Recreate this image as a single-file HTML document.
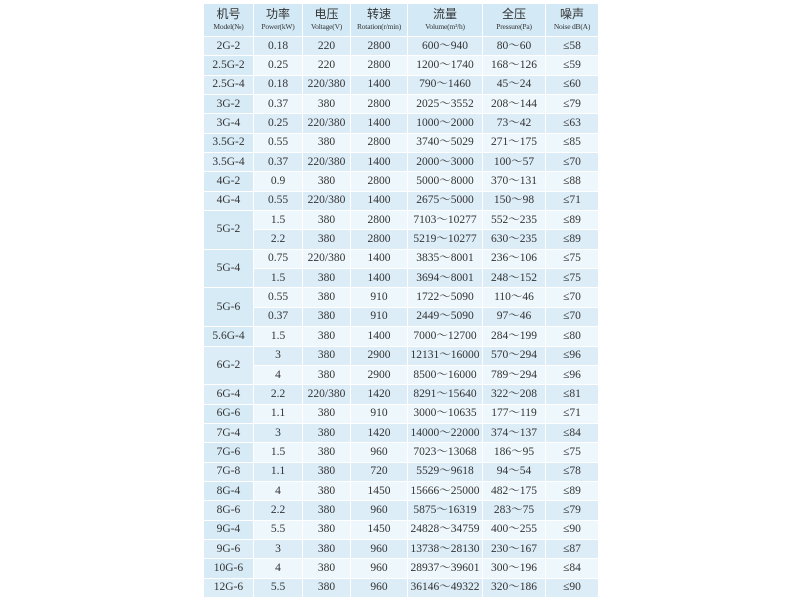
<!DOCTYPE html>
<html><head><meta charset="utf-8"><style>
body{margin:0;width:800px;height:600px;background:#fff;position:relative;overflow:hidden;font-family:"Liberation Serif","Noto Serif CJK SC",serif;color:#333}
table{position:absolute;left:203px;top:3px;width:395px;border-collapse:collapse;table-layout:fixed}
td{border:1.5px solid #fff;text-align:center;padding:0;font-size:11.5px;height:18.35px;line-height:11px;background:#eef7fc;white-space:nowrap}
tr.b td{background:#dcedf8}
td.m{background:#d7ebf7}
th{border:1.5px solid #fff;background:#d3e9f6;height:32px;font-weight:normal;padding:0;font-size:11px;line-height:11px}
th span{display:block;font-size:7.5px;white-space:nowrap;letter-spacing:-0.2px}
th b{display:block;font-weight:normal;font-family:"Liberation Sans","Noto Sans CJK SC",sans-serif;font-size:12px;margin-bottom:1px}
</style></head><body>
<table>
<colgroup><col style="width:50px"><col style="width:49px"><col style="width:48px"><col style="width:57px"><col style="width:75px"><col style="width:63px"><col style="width:53px"></colgroup>
<tr><th><b>机号</b><span>Model(№)</span></th><th><b>功率</b><span>Power(kW)</span></th><th><b>电压</b><span>Voltage(V)</span></th><th><b>转速</b><span>Rotation(r/min)</span></th><th><b>流量</b><span>Volume(m³/h)</span></th><th><b>全压</b><span>Pressure(Pa)</span></th><th><b>噪声</b><span>Noise dB(A)</span></th></tr>
<tr class="b"><td class="m">2G-2</td><td>0.18</td><td>220</td><td>2800</td><td>600～940</td><td>80～60</td><td>≤58</td></tr>
<tr><td class="m">2.5G-2</td><td>0.25</td><td>220</td><td>2800</td><td>1200～1740</td><td>168～126</td><td>≤59</td></tr>
<tr class="b"><td class="m">2.5G-4</td><td>0.18</td><td>220/380</td><td>1400</td><td>790～1460</td><td>45～24</td><td>≤60</td></tr>
<tr><td class="m">3G-2</td><td>0.37</td><td>380</td><td>2800</td><td>2025～3552</td><td>208～144</td><td>≤79</td></tr>
<tr class="b"><td class="m">3G-4</td><td>0.25</td><td>220/380</td><td>1400</td><td>1000～2000</td><td>73～42</td><td>≤63</td></tr>
<tr><td class="m">3.5G-2</td><td>0.55</td><td>380</td><td>2800</td><td>3740～5029</td><td>271～175</td><td>≤85</td></tr>
<tr class="b"><td class="m">3.5G-4</td><td>0.37</td><td>220/380</td><td>1400</td><td>2000～3000</td><td>100～57</td><td>≤70</td></tr>
<tr><td class="m">4G-2</td><td>0.9</td><td>380</td><td>2800</td><td>5000～8000</td><td>370～131</td><td>≤88</td></tr>
<tr class="b"><td class="m">4G-4</td><td>0.55</td><td>220/380</td><td>1400</td><td>2675～5000</td><td>150～98</td><td>≤71</td></tr>
<tr><td class="m" rowspan="2">5G-2</td><td>1.5</td><td>380</td><td>2800</td><td>7103～10277</td><td>552～235</td><td>≤89</td></tr>
<tr class="b"><td>2.2</td><td>380</td><td>2800</td><td>5219～10277</td><td>630～235</td><td>≤89</td></tr>
<tr><td class="m" rowspan="2">5G-4</td><td>0.75</td><td>220/380</td><td>1400</td><td>3835～8001</td><td>236～106</td><td>≤75</td></tr>
<tr class="b"><td>1.5</td><td>380</td><td>1400</td><td>3694～8001</td><td>248～152</td><td>≤75</td></tr>
<tr><td class="m" rowspan="2">5G-6</td><td>0.55</td><td>380</td><td>910</td><td>1722～5090</td><td>110～46</td><td>≤70</td></tr>
<tr class="b"><td>0.37</td><td>380</td><td>910</td><td>2449～5090</td><td>97～46</td><td>≤70</td></tr>
<tr><td class="m">5.6G-4</td><td>1.5</td><td>380</td><td>1400</td><td>7000～12700</td><td>284～199</td><td>≤80</td></tr>
<tr class="b"><td class="m" rowspan="2">6G-2</td><td>3</td><td>380</td><td>2900</td><td>12131～16000</td><td>570～294</td><td>≤96</td></tr>
<tr><td>4</td><td>380</td><td>2900</td><td>8500～16000</td><td>789～294</td><td>≤96</td></tr>
<tr class="b"><td class="m">6G-4</td><td>2.2</td><td>220/380</td><td>1420</td><td>8291～15640</td><td>322～208</td><td>≤81</td></tr>
<tr><td class="m">6G-6</td><td>1.1</td><td>380</td><td>910</td><td>3000～10635</td><td>177～119</td><td>≤71</td></tr>
<tr class="b"><td class="m">7G-4</td><td>3</td><td>380</td><td>1420</td><td>14000～22000</td><td>374～137</td><td>≤84</td></tr>
<tr><td class="m">7G-6</td><td>1.5</td><td>380</td><td>960</td><td>7023～13068</td><td>186～95</td><td>≤75</td></tr>
<tr class="b"><td class="m">7G-8</td><td>1.1</td><td>380</td><td>720</td><td>5529～9618</td><td>94～54</td><td>≤78</td></tr>
<tr><td class="m">8G-4</td><td>4</td><td>380</td><td>1450</td><td>15666～25000</td><td>482～175</td><td>≤89</td></tr>
<tr class="b"><td class="m">8G-6</td><td>2.2</td><td>380</td><td>960</td><td>5875～16319</td><td>283～75</td><td>≤79</td></tr>
<tr><td class="m">9G-4</td><td>5.5</td><td>380</td><td>1450</td><td>24828～34759</td><td>400～255</td><td>≤90</td></tr>
<tr class="b"><td class="m">9G-6</td><td>3</td><td>380</td><td>960</td><td>13738～28130</td><td>230～167</td><td>≤87</td></tr>
<tr><td class="m">10G-6</td><td>4</td><td>380</td><td>960</td><td>28937～39601</td><td>300～196</td><td>≤84</td></tr>
<tr class="b"><td class="m">12G-6</td><td>5.5</td><td>380</td><td>960</td><td>36146～49322</td><td>320～186</td><td>≤90</td></tr>
</table>
</body></html>
